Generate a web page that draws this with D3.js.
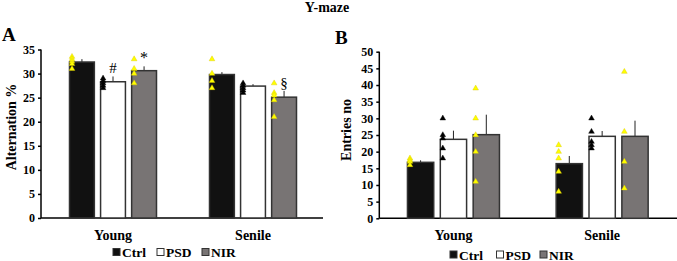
<!DOCTYPE html>
<html>
<head>
<meta charset="utf-8">
<script src="https://cdn.jsdelivr.net/npm/d3@7"></script>
<style>
  body { margin: 0; background: #fff; }
  text { font-family: "Liberation Serif", "Times New Roman", serif; font-weight: bold; }
</style>
</head>
<body>
<div id="chart"></div>
<script>
// data
var categories = ["Young", "Senile"];
var groups = ["Ctrl", "PSD", "NIR"];

// panel A - alternation %
var altMean = [[32.4, 28.3, 30.6], [29.8, 27.4, 25.1]];
var altErr  = [[0.6, 1.1, 0.9], [0.5, 0.4, 1.3]];
var altPoints = [
  [[33.5, 33, 32.5, 32, 31], [29, 28.5, 28, 27.5, 27], [33, 31, 30, 28]],
  [[33, 30, 28.5, 27], [28, 27.5, 27, 26.5, 26], [28, 26, 25.5, 24.5, 21]]
];
var altMarks = [["", "#", "*"], ["", "", "§"]];
var altTicks = [0, 5, 10, 15, 20, 25, 30, 35];

// panel B - entries no
var entMean = [[16.8, 23.7, 25.1], [16.4, 24.6, 24.6]];
var entErr  = [[0.6, 2.6, 6.0], [2.3, 1.6, 4.7]];
var entPoints = [
  [[18, 17.5, 17, 16], [30, 25, 24, 21, 18], [39, 30, 25, 20, 11]],
  [[22, 20, 18, 14, 8], [30, 26, 23, 22, 21], [44, 26, 17, 9]]
];
var entMarks = [["", "", ""], ["", "", ""]];
var entTicks = [0, 5, 10, 15, 20, 25, 30, 35, 40, 45, 50];

var fills = {Ctrl: "#111111", PSD: "#ffffff", NIR: "#787474"};
var dotColor = {Ctrl: "#ffff00", PSD: "#000000", NIR: "#ffff00"};

var svg = d3.select("#chart").append("svg")
    .attr("width", 677)
    .attr("height", 261);

svg.append("text")
  .attr("x", 327).attr("y", 12)
  .attr("text-anchor", "middle")
  .style("font-size", "14px")
  .text("Y-maze");

function panel(o) {
  var g = svg.append("g");
  var y = d3.scaleLinear().domain([0, o.max]).range([o.y0, o.y1]);
  var x0 = d3.scaleBand().domain(categories).range([o.xr0, o.xr1]);
  var x1 = d3.scaleBand().domain(groups)
      .range([-o.gw / 2, o.gw / 2]).paddingInner(0.2);

  // y axis
  var ax = g.append("g")
    .attr("transform", "translate(" + o.ax + ",0)")
    .call(d3.axisLeft(y).tickValues(o.ticks).tickSize(3).tickPadding(3));
  ax.select(".domain").attr("d", "M0," + y(o.max) + "V" + y(0))
    .attr("stroke", "#000").attr("stroke-width", 1.5);
  ax.selectAll(".tick line").attr("stroke-width", 1.5);
  ax.selectAll(".tick text").style("font-size", "12px")
    .style("font-family", "Liberation Serif").style("font-weight", "bold")
    .attr("fill", "#000");

  // x axis line
  g.append("line")
    .attr("x1", o.ax).attr("x2", o.xEnd)
    .attr("y1", y(0)).attr("y2", y(0))
    .attr("stroke", "#000").attr("stroke-width", 1.5);

  var cat = g.selectAll(".cat").data(categories).enter().append("g")
    .attr("transform", function(d) { return "translate(" + (x0(d) + x0.bandwidth() / 2) + ",0)"; });

  cat.each(function(c, ci) {
    var cg = d3.select(this);
    groups.forEach(function(gr, gi) {
      var bx = x1(gr), bw = x1.bandwidth();
      var m = o.mean[ci][gi], e = o.err[ci][gi];
      cg.append("line")
        .attr("x1", bx + bw / 2).attr("x2", bx + bw / 2)
        .attr("y1", y(m)).attr("y2", y(m + e))
        .attr("stroke", "#222").attr("stroke-width", 1);
      cg.append("rect")
        .attr("x", bx).attr("width", bw)
        .attr("y", y(m)).attr("height", y(0) - y(m))
        .attr("fill", fills[gr])
        .attr("stroke", "#333").attr("stroke-width", 1.5);
      cg.selectAll(".pt" + gi).data(o.points[ci][gi]).enter().append("path")
        .attr("d", d3.symbol().type(d3.symbolTriangle).size(14))
        .attr("transform", function(v) { return "translate(" + (bx + 2.5) + "," + y(v) + ")"; })
        .attr("fill", dotColor[gr])
        .attr("stroke", dotColor[gr] == "#000000" ? "#000" : "#d8c800")
        .attr("stroke-width", 0.4);
      if (o.marks[ci][gi]) {
        cg.append("text")
          .attr("x", bx + bw / 2).attr("y", y(m + e) - 3)
          .attr("text-anchor", "middle")
          .attr("fill", "#000")
          .style("font-size", o.marks[ci][gi] == "*" ? "16px" : "15px")
          .style("font-weight", "normal")
          .text(o.marks[ci][gi]);
      }
    });
  });

  // category labels
  g.selectAll(".cl").data(categories).enter().append("text")
    .attr("x", function(d) { return x0(d) + x0.bandwidth() / 2; })
    .attr("y", 240)
    .attr("text-anchor", "middle")
    .style("font-size", "14px")
    .text(function(d) { return d; });

  // y title
  g.append("text")
    .attr("transform", "translate(" + o.tx + "," + o.ty + ") rotate(-90)")
    .attr("text-anchor", "middle")
    .style("font-size", "14px")
    .text(o.title);

  // panel letter
  g.append("text")
    .attr("x", o.lx).attr("y", o.ly)
    .style("font-size", "19px")
    .text(o.letter);

  // legend
  var lg = g.append("g").attr("transform", "translate(" + o.legX + "," + o.legY + ")");
  groups.forEach(function(gr, i) {
    lg.append("rect")
      .attr("x", o.legOff[i]).attr("y", -3.5).attr("width", 7).attr("height", 7)
      .attr("fill", fills[gr]).attr("stroke", "#333").attr("stroke-width", 1);
    lg.append("text")
      .attr("x", o.legOff[i] + 9).attr("y", 5)
      .style("font-size", "13.5px")
      .text(gr);
  });
}

panel({
  max: 35, y0: 218, y1: 49.5, ticks: altTicks,
  ax: 41, xEnd: 323, xr0: 43, xr1: 323, gw: 87,
  mean: altMean, err: altErr, points: altPoints, marks: altMarks,
  title: "Alternation %", tx: 16, ty: 127,
  letter: "A", lx: 2, ly: 41,
  legX: 113, legY: 252, legOff: [0, 44, 89]
});

panel({
  max: 50, y0: 218.3, y1: 51.7, ticks: entTicks,
  ax: 379.3, xEnd: 677, xr0: 379.1, xr1: 676.5, gw: 92,
  mean: entMean, err: entErr, points: entPoints, marks: entMarks,
  title: "Entries no", tx: 351, ty: 130,
  letter: "B", lx: 335, ly: 44,
  legX: 450, legY: 254.5, legOff: [0, 46.5, 90]
});
</script>
</body>
</html>
